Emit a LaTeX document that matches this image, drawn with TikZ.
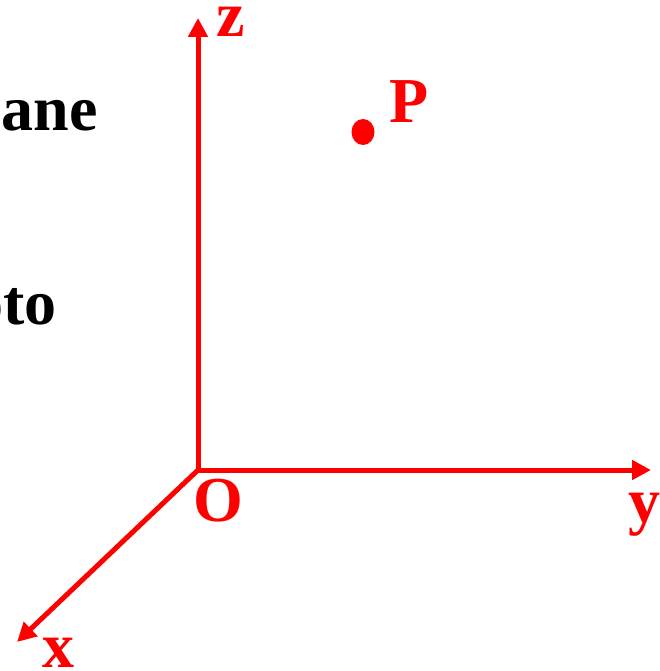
\documentclass[tikz,border=0pt]{standalone}
\usepackage{fontspec}
\setmainfont{Liberation Serif}
\usetikzlibrary{arrows.meta}
\definecolor{axred}{RGB}{255,0,0}
\tikzset{
  axis/.style={draw=axred, line width=5pt, -{Triangle[length=19pt,width=19pt]}},
  redlbl/.style={text=axred, font=\fontsize{64}{70}\selectfont\bfseries, inner sep=0pt, anchor=base},
  lowlbl/.style={redlbl, text height=0.47em, text depth=0pt},
  blacklbl/.style={text=black, font=\fontsize{64}{70}\selectfont\bfseries, inner sep=0pt, anchor=base east},
}
\begin{document}
\begin{tikzpicture}[x=1pt,y=-1pt]
\useasboundingbox (0,0) rectangle (660,671);
\coordinate (O) at (198,470);
\coordinate (zend) at (198,18);
\coordinate (yend) at (651,470);
\coordinate (xend) at (17,642);
\draw[axis] (O) -- (zend);
\draw[axis] (O) -- (yend);
\draw[axis] (O) -- (xend);
\fill[axred] (363,132) ellipse [x radius=11.5, y radius=13];
\node[lowlbl] (lz) at (231,37) {z};
\node[redlbl] (lP) at (409,123) {P};
\node[redlbl] (lO) at (218,521) {O};
\node[lowlbl, text depth=0.22em] (ly) at (644,522) {y};
\node[lowlbl] (lx) at (58,667) {x};
\node[blacklbl] (t1) at (98,131) {ane};
\node[blacklbl] (t2) at (57,324) {oto};
\end{tikzpicture}
\end{document}
